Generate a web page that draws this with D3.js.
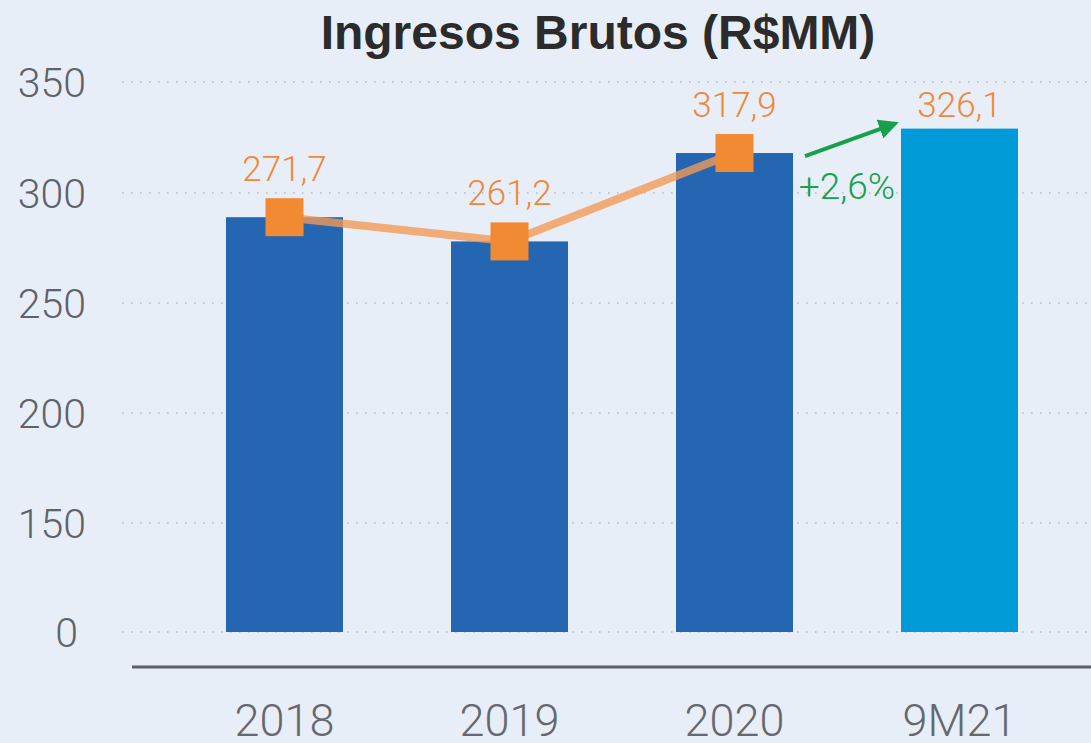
<!DOCTYPE html>
<html>
<head>
<meta charset="utf-8">
<script src="https://cdn.jsdelivr.net/npm/d3@7.9.0/dist/d3.min.js"></script>
<style>
  html, body { margin: 0; padding: 0; background: #e8eef7; }
  svg { display: block; }
</style>
</head>
<body>
<div id="chart"></div>
<script>
// data
const periods = ['2018', '2019', '2020', '9M21'];
const barValues = [289, 278, 318, 329];           // bar heights on the (broken) axis
const lineValues = [289, 278, 318];               // orange line, 2018-2020
const valueLabels = ['271,7', '261,2', '317,9', '326,1'];
const yTicks = [0, 150, 200, 250, 300, 350];
const growthLabel = '+2,6%';

const width = 1091;
const height = 743;
const lightFont = 'Roboto, "Liberation Sans", sans-serif';

const svg = d3.select('#chart')
    .append('svg')
    .attr('width', width)
    .attr('height', height)
    .attr('viewBox', [0, 0, width, height])
    .style('font-family', lightFont);

svg.append('rect')
    .attr('width', width)
    .attr('height', height)
    .attr('fill', '#e8eef7');

// x: band scale, one band per period
const x = d3.scaleBand()
    .domain(periods)
    .range([172, 1072])
    .paddingInner(0.48)
    .paddingOuter(0.24);

// y: broken axis, 0 sits where 100 would be
const y = d3.scaleLinear()
    .domain([0, 150, 200, 250, 300, 350])
    .range([632, 523, 413, 303, 193, 82]);

// dotted gridlines
svg.append('g')
    .selectAll('line')
    .data(yTicks)
    .join('line')
    .attr('x1', 122)
    .attr('x2', width)
    .attr('y1', d => y(d))
    .attr('y2', d => y(d))
    .attr('stroke', '#b4bcc7')
    .attr('stroke-width', 1.6)
    .attr('stroke-dasharray', '1.6 7.4');

// y labels
const yAxis = svg.append('g')
    .attr('transform', 'translate(86,0)')
    .call(d3.axisLeft(y).tickValues(yTicks).tickSize(0).tickPadding(0));
yAxis.select('.domain').remove();
yAxis.selectAll('text')
    .style('font-family', lightFont)
    .style('font-weight', 300)
    .style('font-size', '41px')
    .attr('fill', '#5e6269')
    .attr('dy', '0.36em')
    .attr('dx', d => d === 0 ? -8 : 0);

// bars
svg.append('g')
    .selectAll('rect')
    .data(periods)
    .join('rect')
    .attr('x', d => x(d))
    .attr('width', x.bandwidth())
    .attr('y', (d, i) => y(barValues[i]))
    .attr('height', (d, i) => y(0) - y(barValues[i]))
    .attr('fill', (d, i) => i === periods.length - 1 ? '#009ad9' : '#2466b2');

// x axis line + labels
const xAxis = svg.append('g')
    .attr('transform', 'translate(0,667)')
    .call(d3.axisBottom(x).tickSize(0).tickPadding(0));
xAxis.select('.domain').remove();
xAxis.append('line')
    .attr('x1', 132)
    .attr('x2', width)
    .attr('stroke', '#5b5f66')
    .attr('stroke-width', 3);
xAxis.selectAll('.tick text')
    .style('font-family', lightFont)
    .style('font-weight', 300)
    .style('font-size', '45px')
    .attr('fill', '#65696f')
    .attr('y', 69)
    .attr('dy', 0);

// orange line with square markers
const cx = d => x(d) + x.bandwidth() / 2;
const linePeriods = periods.slice(0, lineValues.length);

svg.append('path')
    .datum(lineValues)
    .attr('fill', 'none')
    .attr('stroke', '#f39a55')
    .attr('stroke-opacity', 0.8)
    .attr('stroke-width', 8)
    .attr('d', d3.line()
        .x((d, i) => cx(linePeriods[i]))
        .y(d => y(d)));

const markerSize = 38;
svg.append('g')
    .selectAll('rect')
    .data(lineValues)
    .join('rect')
    .attr('x', (d, i) => cx(linePeriods[i]) - markerSize / 2)
    .attr('y', d => y(d) - markerSize / 2)
    .attr('width', markerSize)
    .attr('height', markerSize)
    .attr('fill', '#f28a33');

// value labels
svg.append('g')
    .selectAll('text')
    .data(valueLabels)
    .join('text')
    .attr('x', (d, i) => cx(periods[i]))
    .attr('y', (d, i) => i < lineValues.length ? y(lineValues[i]) - 36 : y(barValues[i]) - 12)
    .attr('text-anchor', 'middle')
    .style('font-weight', 300)
    .style('font-size', '35px')
    .attr('fill', '#f0883a')
    .text(d => d);

// growth arrow 2020 -> 9M21
const x0 = x('2020') + x.bandwidth() + 12;
const x1 = x('9M21') - 6;
const yA = y(barValues[2]) + 3;
const yB = y(barValues[3]) - 5;

svg.append('defs')
    .append('marker')
    .attr('id', 'arrow')
    .attr('viewBox', '0 0 10 10')
    .attr('refX', 8)
    .attr('refY', 5)
    .attr('markerWidth', 5)
    .attr('markerHeight', 5)
    .attr('orient', 'auto')
    .append('path')
    .attr('d', 'M0,0 L10,5 L0,10 z')
    .attr('fill', '#17a04c');

svg.append('line')
    .attr('x1', x0)
    .attr('y1', yA)
    .attr('x2', x1)
    .attr('y2', yB)
    .attr('stroke', '#17a04c')
    .attr('stroke-width', 4)
    .attr('marker-end', 'url(#arrow)');

svg.append('text')
    .attr('x', 847)
    .attr('y', 199)
    .attr('text-anchor', 'middle')
    .style('font-weight', 300)
    .style('font-size', '37px')
    .attr('fill', '#17a04c')
    .text(growthLabel);

// title
svg.append('text')
    .attr('x', 598)
    .attr('y', 49)
    .attr('text-anchor', 'middle')
    .style('font-family', '"Liberation Sans", Arial, sans-serif')
    .style('font-weight', 700)
    .style('font-size', '48px')
    .attr('fill', '#2b2b2b')
    .text('Ingresos Brutos (R$MM)');
</script>
</body>
</html>
